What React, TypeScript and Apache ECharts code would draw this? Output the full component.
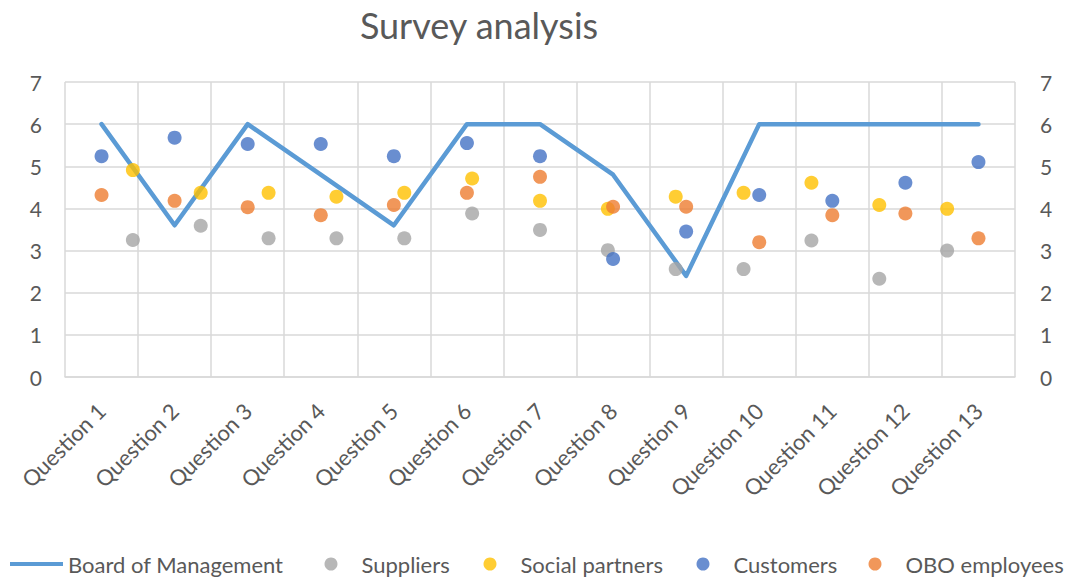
import React, { useEffect, useRef } from "react";
import * as echarts from "echarts";

const questions = [
  "Question 1", "Question 2", "Question 3", "Question 4", "Question 5",
  "Question 6", "Question 7", "Question 8", "Question 9", "Question 10",
  "Question 11", "Question 12", "Question 13",
];
const yTicks = [0, 1, 2, 3, 4, 5, 6, 7];

const boardOfManagement = [6, 3.6, 6, 4.8, 3.6, 6, 6, 4.8, 2.4, 6, 6, 6, 6];
const suppliers = [3.25, 3.59, 3.29, 3.29, 3.29, 3.88, 3.49, 3.01, 2.56, 2.56, 3.24, 2.33, 3.0];
const socialPartners = [4.91, 4.37, 4.37, 4.28, 4.37, 4.71, 4.18, 3.99, 4.28, 4.37, 4.61, 4.08, 3.99];
const customers = [5.24, 5.68, 5.53, 5.53, 5.24, 5.55, 5.24, 2.8, 3.45, 4.32, 4.18, 4.61, 5.1];
const oboEmployees = [4.32, 4.18, 4.03, 3.84, 4.08, 4.37, 4.75, 4.04, 4.04, 3.2, 3.84, 3.88, 3.29];

const seriesNames = ["Board of Management", "Suppliers", "Social partners", "Customers", "OBO employees"];
const seriesColors = ["#5B9BD5", "#A5A5A5", "#FFC000", "#4472C4", "#ED7D31"];

const FONT = "Lato";
const TEXT = "#595959";
const GRID = "#d9d9d9";
const LEGEND_FONT = 22;

export default function App() {
  const ref = useRef<HTMLDivElement>(null);

  useEffect(() => {
    document.body.style.margin = "0";
    const chart = echarts.init(ref.current!, undefined, { renderer: "svg" });
    const offsetPts = (arr: number[]) => arr.map((v, i) => [i + 1, v]);

    const legendLeft = [10, 324.5, 483.5, 696.5, 868.5];
    const legends = seriesNames.map((name, i) => ({
      left: legendLeft[i],
      top: 553,
      padding: 0,
      itemWidth: i === 0 ? 53 : 13,
      itemHeight: 13,
      textStyle: {
        fontFamily: FONT,
        fontSize: LEGEND_FONT,
        color: TEXT,
        padding: i === 0 ? 0 : [0, 0, 0, 19],
      },
      data: [
        i === 0
          ? { name, icon: "path://M0,0 L53,0 L53,4 L0,4 Z" }
          : { name, icon: "circle" },
      ],
    }));

    chart.setOption({
      animation: false,
      backgroundColor: "#ffffff",
      title: {
        text: "Survey analysis",
        left: 474,
        top: 2,
        textAlign: "center",
        textStyle: { fontFamily: FONT, fontSize: 36, fontWeight: "normal", color: TEXT },
      },
      grid: { left: 65, right: 55, top: 82, bottom: 202 },
      xAxis: [
        {
          type: "category",
          data: questions,
          boundaryGap: true,
          axisLine: { show: true, lineStyle: { color: GRID, width: 1.5 } },
          axisTick: { show: false },
          splitLine: { show: true, lineStyle: { color: GRID, width: 1.5 } },
          axisLabel: {
            rotate: 45,
            margin: 30,
            interval: 0,
            align: "right",
            verticalAlign: "middle",
            fontFamily: FONT,
            fontSize: 22,
            color: TEXT,
          },
        },
        {
          type: "value",
          min: 0,
          max: questions.length + 1,
          show: false,
        },
      ],
      yAxis: [
        {
          type: "value",
          min: yTicks[0],
          max: yTicks[yTicks.length - 1],
          interval: 1,
          position: "left",
          axisLine: { show: false },
          axisTick: { show: false },
          splitLine: { show: true, lineStyle: { color: GRID, width: 1.5 } },
          axisLabel: { margin: 23, fontFamily: FONT, fontSize: 21, color: TEXT },
        },
        {
          type: "value",
          min: yTicks[0],
          max: yTicks[yTicks.length - 1],
          interval: 1,
          position: "right",
          axisLine: { show: false },
          axisTick: { show: false },
          splitLine: { show: false },
          axisLabel: { margin: 25, fontFamily: FONT, fontSize: 21, color: TEXT },
        },
      ],
      legend: legends,
      series: [
        {
          name: seriesNames[0],
          type: "line",
          data: boardOfManagement,
          xAxisIndex: 0,
          yAxisIndex: 0,
          showSymbol: false,
          symbol: "none",
          lineStyle: { color: seriesColors[0], width: 4.5, join: "round", cap: "round" },
          itemStyle: { color: seriesColors[0] },
          z: 2,
        },
        {
          name: seriesNames[1],
          type: "scatter",
          data: offsetPts(suppliers),
          xAxisIndex: 1,
          yAxisIndex: 0,
          symbolSize: 14,
          itemStyle: { color: seriesColors[1] },
          z: 3,
        },
        {
          name: seriesNames[2],
          type: "scatter",
          data: offsetPts(socialPartners),
          xAxisIndex: 1,
          yAxisIndex: 0,
          symbolSize: 14,
          itemStyle: { color: seriesColors[2] },
          z: 3,
        },
        {
          name: seriesNames[3],
          type: "scatter",
          data: customers,
          xAxisIndex: 0,
          yAxisIndex: 0,
          symbolSize: 14,
          itemStyle: { color: seriesColors[3] },
          z: 4,
        },
        {
          name: seriesNames[4],
          type: "scatter",
          data: oboEmployees,
          xAxisIndex: 0,
          yAxisIndex: 0,
          symbolSize: 14,
          itemStyle: { color: seriesColors[4] },
          z: 4,
        },
      ],
    });
    return () => chart.dispose();
  }, []);

  return (
    <div
      ref={ref}
      style={{ position: "fixed", left: 0, top: 0, width: 1070, height: 579, background: "#fff" }}
    />
  );
}
